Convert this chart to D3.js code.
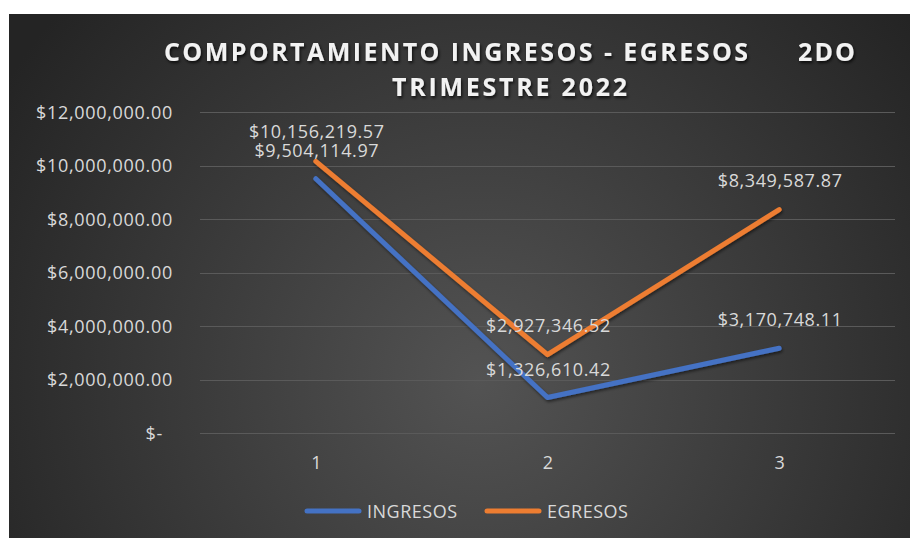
<!DOCTYPE html>
<html>
<head>
<meta charset="utf-8">
<script src="https://cdn.jsdelivr.net/npm/d3@7"></script>
<style>
  html, body { margin: 0; padding: 0; background: #ffffff; }
  svg { display: block; }
</style>
</head>
<body>
<svg id="chart" width="910" height="538"></svg>
<script>
const categories = ["1", "2", "3"];
const ingresos = [9504114.97, 1326610.42, 3170748.11];
const egresos = [10156219.57, 2927346.52, 8349587.87];
const yTicks = [0, 2000000, 4000000, 6000000, 8000000, 10000000, 12000000];
const seriesNames = ["INGRESOS", "EGRESOS"];
const seriesColors = ["#4472C4", "#ED7D31"];
const titleLine1a = "COMPORTAMIENTO INGRESOS - EGRESOS";
const titleLine1b = "2DO";
const titleLine2 = "TRIMESTRE 2022";

const svg = d3.select("#chart");
const defs = svg.append("defs");

const grad = defs.append("radialGradient")
  .attr("id", "bg").attr("gradientUnits", "userSpaceOnUse")
  .attr("cx", 480).attr("cy", 380).attr("r", 560);
grad.append("stop").attr("offset", "0%").attr("stop-color", "#535353");
grad.append("stop").attr("offset", "100%").attr("stop-color", "#242424");

const tshadow = defs.append("filter").attr("id", "tshadow")
  .attr("x", "-10%").attr("y", "-30%").attr("width", "120%").attr("height", "160%");
tshadow.append("feDropShadow").attr("dx", 1.2).attr("dy", 2).attr("stdDeviation", 1.4)
  .attr("flood-color", "#000").attr("flood-opacity", 0.75);

const lshadow = defs.append("filter").attr("id", "lshadow")
  .attr("x", "-10%").attr("y", "-10%").attr("width", "120%").attr("height", "120%");
lshadow.append("feDropShadow").attr("dx", 1).attr("dy", 2).attr("stdDeviation", 1.5)
  .attr("flood-color", "#000").attr("flood-opacity", 0.5);

svg.append("rect").attr("x", 9).attr("y", 14).attr("width", 901).attr("height", 524)
  .attr("fill", "url(#bg)");

const x = d3.scalePoint().domain(categories).range([200, 895]).padding(0.5);
const y = d3.scaleLinear().domain([0, 12000000]).range([433, 112]);

const font = "'Open Sans', 'DejaVu Sans', sans-serif";
const textColor = "#d9d9d9";
const moneyFmt = d3.format(",.2f");

// gridlines
svg.append("g").selectAll("line").data(yTicks).join("line")
  .attr("x1", 200).attr("x2", 895)
  .attr("y1", d => Math.round(y(d)) + 0.5).attr("y2", d => Math.round(y(d)) + 0.5)
  .attr("stroke", "#5a5a5a").attr("stroke-width", 1.2);

// y axis labels
const yAxis = d3.axisLeft(y).tickValues(yTicks).tickSize(0).tickPadding(0)
  .tickFormat(d => d === 0 ? "$-" : "$" + moneyFmt(d));
const yg = svg.append("g").attr("transform", "translate(173,0)").call(yAxis);
yg.select(".domain").remove();
yg.selectAll("text")
  .attr("fill", textColor).attr("font-family", font).attr("font-size", 18)
  .attr("letter-spacing", 0.7)
  .attr("dy", "0.34em")
  .attr("dx", d => d === 0 ? -10 : 0);

// x axis labels
const xAxis = d3.axisBottom(x).tickSize(0).tickPadding(0);
const xg = svg.append("g").attr("transform", "translate(0,469)").call(xAxis);
xg.select(".domain").remove();
xg.selectAll("text")
  .attr("fill", textColor).attr("font-family", font).attr("font-size", 18)
  .attr("dy", 0);

// lines
const allSeries = [ingresos, egresos];
const line = d3.line().x((d, i) => x(categories[i])).y(d => y(d));
svg.append("g").selectAll("path").data(allSeries).join("path")
  .attr("d", d => line(d))
  .attr("fill", "none")
  .attr("stroke", (d, i) => seriesColors[i])
  .attr("stroke-width", 5)
  .attr("stroke-linecap", "round")
  .attr("stroke-linejoin", "round")
  .attr("filter", "url(#lshadow)");

// data labels
const labelOffset = [22, 23];
allSeries.forEach((vals, si) => {
  svg.append("g").selectAll("text").data(vals).join("text")
    .attr("x", (d, i) => x(categories[i]) + 1)
    .attr("y", d => y(d) - labelOffset[si])
    .attr("text-anchor", "middle")
    .attr("fill", textColor).attr("font-family", font).attr("font-size", 18)
    .attr("letter-spacing", 0.6)
    .text(d => "$" + moneyFmt(d));
});

// title
const title = svg.append("g").attr("filter", "url(#tshadow)")
  .attr("font-family", font).attr("font-weight", 700).attr("font-size", 25)
  .attr("fill", "#f2f2f2");
title.append("text").attr("x", 164).attr("y", 61)
  .attr("textLength", 584).attr("lengthAdjust", "spacing").text(titleLine1a);
title.append("text").attr("x", 798).attr("y", 61)
  .attr("textLength", 57).attr("lengthAdjust", "spacing").text(titleLine1b);
title.append("text").attr("x", 392).attr("y", 96)
  .attr("textLength", 235).attr("lengthAdjust", "spacing").text(titleLine2);

// legend
const legendX = [307, 487];
const lg = svg.append("g").selectAll("g").data(seriesNames).join("g")
  .attr("transform", (d, i) => `translate(${legendX[i]},511)`);
lg.append("line").attr("x1", 0).attr("x2", 52).attr("y1", 0).attr("y2", 0)
  .attr("stroke", (d, i) => seriesColors[i]).attr("stroke-width", 5)
  .attr("stroke-linecap", "round");
lg.append("text").attr("x", 60).attr("y", 7)
  .attr("fill", textColor).attr("font-family", font).attr("font-size", 18)
  .attr("letter-spacing", 0.5)
  .text(d => d);
</script>
</body>
</html>
